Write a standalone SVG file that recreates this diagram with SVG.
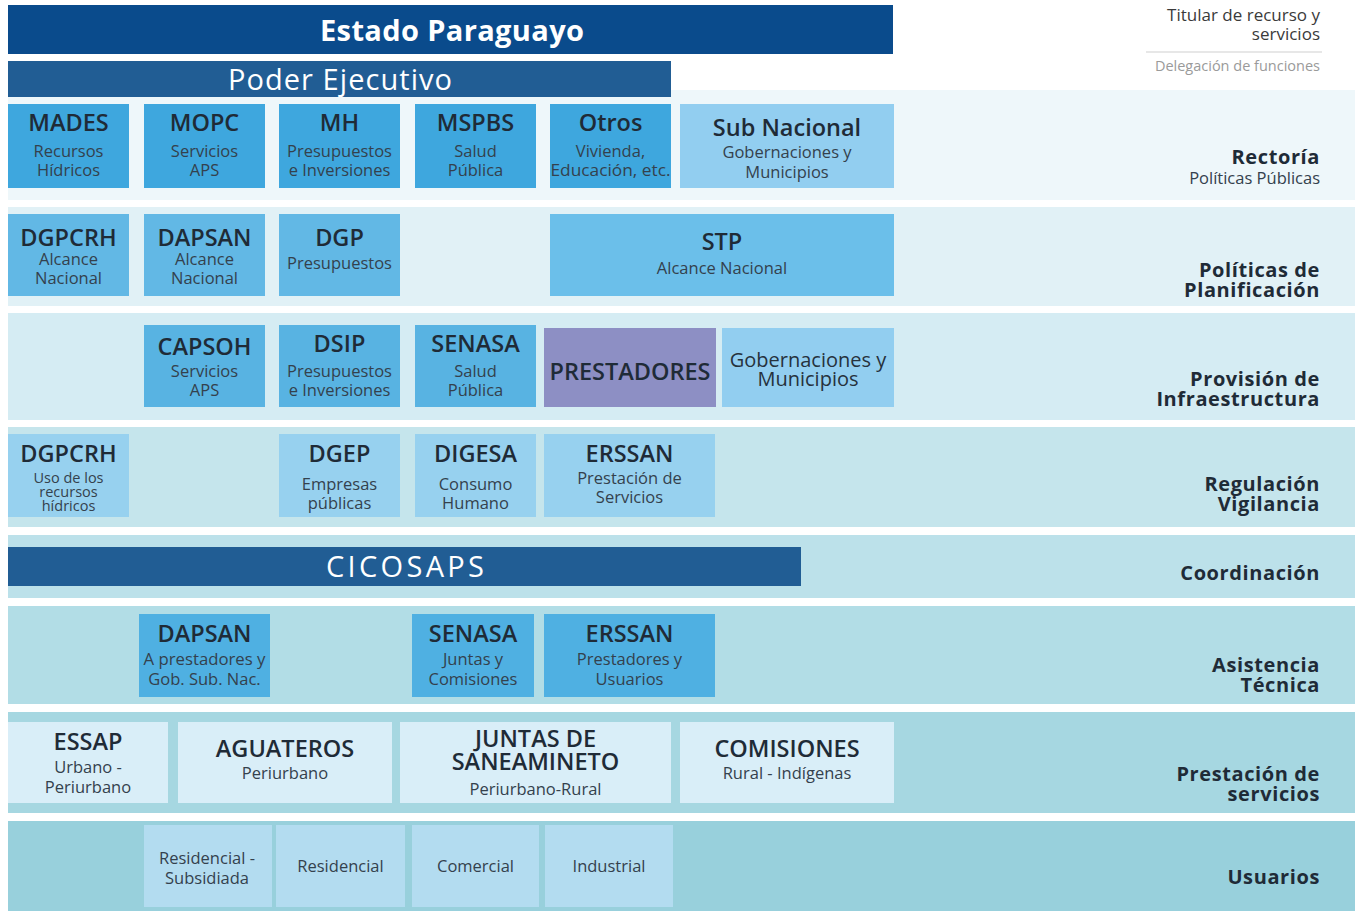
<svg xmlns="http://www.w3.org/2000/svg" width="1355" height="911" viewBox="0 0 1355 911">
<style>
text{font-family:"Open Sans","Liberation Sans",sans-serif;text-anchor:middle}
.t{font-size:23.5px;font-weight:600;fill:#1f2b37}
.s{font-size:16.5px;font-weight:500;fill:#34414d}
.s2{font-size:14.5px;font-weight:500;fill:#34414d}
.ban{font-size:29px;fill:#ffffff}
.lab{font-size:20px;font-weight:700;fill:#1f2b37;text-anchor:end;letter-spacing:0.6px}
.labs{font-size:16.5px;font-weight:500;fill:#34414d;text-anchor:end}
.c1{fill:#3ea7de}.c2{fill:#62b8e5}.c3{fill:#58b3e2}.c4{fill:#97d1ef}.c6{fill:#4fb0e2}.c7{fill:#d9eef8}.c8{fill:#b3dcf0}.cl{fill:#92cef0}
</style>
<rect width="1355" height="911" fill="#ffffff"/>
<g id="bands">
<rect x="8" y="90" width="1347" height="110" fill="#eef7fa"/>
<rect x="8" y="207" width="1347" height="99" fill="#e1f1f6"/>
<rect x="8" y="313" width="1347" height="107" fill="#d5ecf3"/>
<rect x="8" y="427" width="1347" height="100" fill="#c5e5ec"/>
<rect x="8" y="535" width="1347" height="63" fill="#bce1ea"/>
<rect x="8" y="606" width="1347" height="98" fill="#b2dde6"/>
<rect x="8" y="712" width="1347" height="101" fill="#a6d7e1"/>
<rect x="8" y="821" width="1347" height="90" fill="#98d0dc"/>
</g>
<g id="legend">
<text x="1320" y="21" style="text-anchor:end;font-size:17px;fill:#3a3a3a">Titular de recurso y</text>
<text x="1320" y="40" style="text-anchor:end;font-size:17px;fill:#3a3a3a">servicios</text>
<line x1="1146" y1="52" x2="1322" y2="52" stroke="#cfcfcf" stroke-width="1.2"/>
<text x="1320" y="71" style="text-anchor:end;font-size:14.5px;fill:#9a9a9a">Delegación de funciones</text>
</g>
<g id="labels">
<text class="lab" x="1320" y="164">Rectoría</text>
<text class="labs" x="1320" y="184">Políticas Públicas</text>
<text class="lab" x="1320" y="277">Políticas de</text>
<text class="lab" x="1320" y="297">Planificación</text>
<text class="lab" x="1320" y="386">Provisión de</text>
<text class="lab" x="1320" y="406">Infraestructura</text>
<text class="lab" x="1320" y="491">Regulación</text>
<text class="lab" x="1320" y="511">Vigilancia</text>
<text class="lab" x="1320" y="580">Coordinación</text>
<text class="lab" x="1320" y="672">Asistencia</text>
<text class="lab" x="1320" y="692">Técnica</text>
<text class="lab" x="1320" y="781">Prestación de</text>
<text class="lab" x="1320" y="801">servicios</text>
<text class="lab" x="1320" y="884">Usuarios</text>
</g>
<g id="estado"><rect x="8" y="5" width="885" height="49" fill="#0a4b8c"/><text class="ban" x="452" y="41" font-weight="700" textLength="264" lengthAdjust="spacing">Estado Paraguayo</text></g>
<g id="poder"><rect x="8" y="61" width="663" height="36" fill="#215d94"/><text class="ban" x="340" y="90" font-weight="500" textLength="224" lengthAdjust="spacing">Poder Ejecutivo</text></g>
<g id="mades"><rect class="c1" x="8" y="104" width="121" height="84"/><text class="t" x="68.5" y="131">MADES</text><text class="s" x="68.5" y="157">Recursos</text><text class="s" x="68.5" y="176">Hídricos</text></g>
<g id="mopc"><rect class="c1" x="144" y="104" width="121" height="84"/><text class="t" x="204.5" y="131">MOPC</text><text class="s" x="204.5" y="157">Servicios</text><text class="s" x="204.5" y="176">APS</text></g>
<g id="mh"><rect class="c1" x="279" y="104" width="121" height="84"/><text class="t" x="339.5" y="131">MH</text><text class="s" x="339.5" y="157">Presupuestos</text><text class="s" x="339.5" y="176">e Inversiones</text></g>
<g id="mspbs"><rect class="c1" x="415" y="104" width="121" height="84"/><text class="t" x="475.5" y="131">MSPBS</text><text class="s" x="475.5" y="157">Salud</text><text class="s" x="475.5" y="176">Pública</text></g>
<g id="otros"><rect class="c1" x="550" y="104" width="121" height="84"/><text class="t" x="610.5" y="131">Otros</text><text class="s" x="610.5" y="157">Vivienda,</text><text class="s" x="610.5" y="176" textLength="120" lengthAdjust="spacingAndGlyphs">Educación, etc.</text></g>
<g id="subnacional"><rect class="cl" x="680" y="104" width="214" height="84"/><text class="t" x="787" y="136">Sub Nacional</text><text class="s" x="787" y="158">Gobernaciones y</text><text class="s" x="787" y="178">Municipios</text></g>
<g id="dgpcrh1"><rect class="c2" x="8" y="214" width="121" height="82"/><text class="t" x="68.5" y="246">DGPCRH</text><text class="s" x="68.5" y="265">Alcance</text><text class="s" x="68.5" y="284">Nacional</text></g>
<g id="dapsan1"><rect class="c2" x="144" y="214" width="121" height="82"/><text class="t" x="204.5" y="246">DAPSAN</text><text class="s" x="204.5" y="265">Alcance</text><text class="s" x="204.5" y="284">Nacional</text></g>
<g id="dgp"><rect class="c2" x="279" y="214" width="121" height="82"/><text class="t" x="339.5" y="246">DGP</text><text class="s" x="339.5" y="269">Presupuestos</text></g>
<g id="stp"><rect x="550" y="214" width="344" height="82" fill="#6bbfea"/><text class="t" x="722" y="250">STP</text><text class="s" x="722" y="274">Alcance Nacional</text></g>
<g id="capsoh"><rect class="c3" x="144" y="325" width="121" height="82"/><text class="t" x="204.5" y="355">CAPSOH</text><text class="s" x="204.5" y="377">Servicios</text><text class="s" x="204.5" y="396">APS</text></g>
<g id="dsip"><rect class="c3" x="279" y="325" width="121" height="82"/><text class="t" x="339.5" y="352">DSIP</text><text class="s" x="339.5" y="377">Presupuestos</text><text class="s" x="339.5" y="396">e Inversiones</text></g>
<g id="senasa1"><rect class="c3" x="415" y="325" width="121" height="82"/><text class="t" x="475.5" y="352">SENASA</text><text class="s" x="475.5" y="377">Salud</text><text class="s" x="475.5" y="396">Pública</text></g>
<g id="prestadores"><rect x="544" y="328" width="172" height="79" fill="#8d8fc4"/><text class="t" x="630" y="380">PRESTADORES</text></g>
<g id="gobernaciones"><rect class="cl" x="722" y="328" width="172" height="79"/><text x="808" y="367" style="font-size:20px;font-weight:500;fill:#26323d">Gobernaciones y</text><text x="808" y="386" style="font-size:20px;font-weight:500;fill:#26323d">Municipios</text></g>
<g id="dgpcrh2"><rect class="c4" x="8" y="434" width="121" height="83"/><text class="t" x="68.5" y="462">DGPCRH</text><text class="s2" x="68.5" y="483">Uso de los</text><text class="s2" x="68.5" y="497">recursos</text><text class="s2" x="68.5" y="511">hídricos</text></g>
<g id="dgep"><rect class="c4" x="279" y="434" width="121" height="83"/><text class="t" x="339.5" y="462">DGEP</text><text class="s" x="339.5" y="490">Empresas</text><text class="s" x="339.5" y="509">públicas</text></g>
<g id="digesa"><rect class="c4" x="415" y="434" width="121" height="83"/><text class="t" x="475.5" y="462">DIGESA</text><text class="s" x="475.5" y="490">Consumo</text><text class="s" x="475.5" y="509">Humano</text></g>
<g id="erssan1"><rect class="c4" x="544" y="434" width="171" height="83"/><text class="t" x="629.5" y="462">ERSSAN</text><text class="s" x="629.5" y="484">Prestación de</text><text class="s" x="629.5" y="503">Servicios</text></g>
<g id="cicosaps"><rect x="8" y="547" width="793" height="39" fill="#215d94"/><text class="ban" x="405" y="577" font-weight="500" textLength="158" lengthAdjust="spacing">CICOSAPS</text></g>
<g id="dapsan2"><rect class="c6" x="139" y="614" width="131" height="83"/><text class="t" x="204.5" y="642">DAPSAN</text><text class="s" x="204.5" y="665" textLength="122" lengthAdjust="spacingAndGlyphs">A prestadores y</text><text class="s" x="204.5" y="685">Gob. Sub. Nac.</text></g>
<g id="senasa2"><rect class="c6" x="412" y="614" width="122" height="83"/><text class="t" x="473" y="642">SENASA</text><text class="s" x="473" y="665">Juntas y</text><text class="s" x="473" y="685">Comisiones</text></g>
<g id="erssan2"><rect class="c6" x="544" y="614" width="171" height="83"/><text class="t" x="629.5" y="642">ERSSAN</text><text class="s" x="629.5" y="665">Prestadores y</text><text class="s" x="629.5" y="685">Usuarios</text></g>
<g id="essap"><rect class="c7" x="8" y="722" width="160" height="81"/><text class="t" x="88" y="750">ESSAP</text><text class="s" x="88" y="773">Urbano -</text><text class="s" x="88" y="793">Periurbano</text></g>
<g id="aguateros"><rect class="c7" x="178" y="722" width="214" height="81"/><text class="t" x="285" y="757">AGUATEROS</text><text class="s" x="285" y="779">Periurbano</text></g>
<g id="juntas"><rect class="c7" x="400" y="722" width="271" height="81"/><text class="t" x="535.5" y="747">JUNTAS DE</text><text class="t" x="535.5" y="770">SANEAMINETO</text><text class="s" x="535.5" y="795">Periurbano-Rural</text></g>
<g id="comisiones"><rect class="c7" x="680" y="722" width="214" height="81"/><text class="t" x="787" y="757">COMISIONES</text><text class="s" x="787" y="779">Rural - Indígenas</text></g>
<g id="residencial-subsidiada"><rect class="c8" x="144" y="825" width="128" height="82"/><text class="s" x="207" y="864">Residencial -</text><text class="s" x="207" y="884">Subsidiada</text></g>
<g id="residencial"><rect class="c8" x="276" y="825" width="129" height="82"/><text class="s" x="340.5" y="872">Residencial</text></g>
<g id="comercial"><rect class="c8" x="412" y="825" width="127" height="82"/><text class="s" x="475.5" y="872">Comercial</text></g>
<g id="industrial"><rect class="c8" x="545" y="825" width="128" height="82"/><text class="s" x="609" y="872">Industrial</text></g>
<g id="connectors"></g>
</svg>
